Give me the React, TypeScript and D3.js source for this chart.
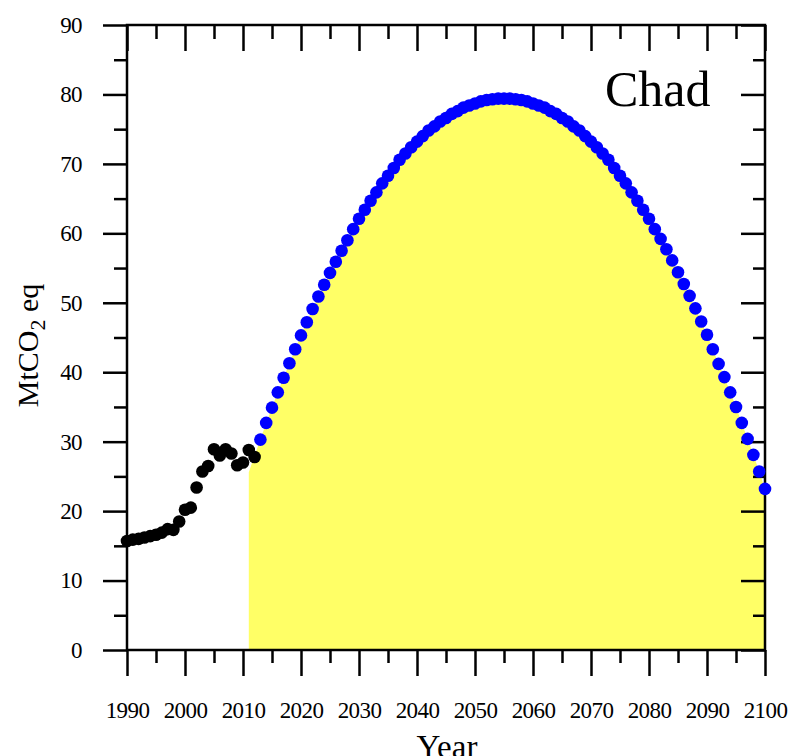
import * as d3 from 'd3';
import * as React from 'react';

const { useRef, useEffect } = React;

const width = 788;
const height = 756;
const margin = { top: 25, right: 23, bottom: 106, left: 127 };

const countryName = 'Chad';

// historical emissions, 1990-2012 (black)
const histStart = 1990;
const histValues = [
  15.7, 15.9, 16.0, 16.2, 16.4, 16.6, 16.9, 17.4, 17.3, 18.5, 20.2, 20.5,
  23.4, 25.7, 26.5, 28.9, 28.0, 28.9, 28.3, 26.6, 27.0, 28.8, 27.8,
];

// projected pathway, 2011-2100 (yellow area); dots drawn from 2013 (blue)
const projStart = 2011;
const dotsFrom = 2013;
const projValues = [
  25.6, 28.0, 30.3, 32.7, 34.9, 37.1, 39.2, 41.3, 43.3, 45.3, 47.2, 49.1,
  50.9, 52.6, 54.3, 55.9, 57.5, 59.0, 60.6, 62.1, 63.4, 64.7, 65.9, 67.2,
  68.3, 69.4, 70.6, 71.5, 72.4, 73.2, 74.0, 74.8, 75.4, 76.1, 76.6, 77.2,
  77.6, 78.1, 78.4, 78.7, 79.0, 79.2, 79.3, 79.4, 79.4, 79.4, 79.3, 79.2,
  79.0, 78.7, 78.4, 78.1, 77.6, 77.2, 76.6, 76.1, 75.4, 74.8, 74.0, 73.2,
  72.4, 71.5, 70.6, 69.4, 68.3, 67.2, 65.9, 64.7, 63.4, 62.1, 60.6, 59.2,
  57.7, 56.1, 54.4, 52.7, 51.0, 49.2, 47.3, 45.4, 43.3, 41.2, 39.3, 37.1,
  35.0, 32.7, 30.4, 28.1, 25.7, 23.2,
];

const xMajorTicks = [1990, 2000, 2010, 2020, 2030, 2040, 2050, 2060, 2070, 2080, 2090, 2100];
const xMinorTicks = [1995, 2005, 2015, 2025, 2035, 2045, 2055, 2065, 2075, 2085, 2095];
const yMajorTicks = [0, 10, 20, 30, 40, 50, 60, 70, 80, 90];
const yMinorTicks = [5, 15, 25, 35, 45, 55, 65, 75, 85];

const font = '"Liberation Serif", "Times New Roman", serif';

export default () => {
  const rootRef = useRef<SVGSVGElement>(null);

  useEffect(() => {
    const rootEl = rootRef.current;
    if (!rootEl) {
      return;
    }

    const hist = histValues.map((v, i) => ({ year: histStart + i, v }));
    const proj = projValues.map((v, i) => ({ year: projStart + i, v }));

    const x = d3
      .scaleLinear()
      .domain([1990, 2100])
      .range([margin.left, width - margin.right]);

    const y = d3
      .scaleLinear()
      .domain([0, 90])
      .range([height - margin.bottom, margin.top]);

    const svg = d3.select(rootEl);
    svg.selectAll('*').remove();

    // yellow area under the projection
    const area = d3
      .area<{ year: number; v: number }>()
      .x(d => x(d.year))
      .y0(y(0))
      .y1(d => y(d.v));

    svg
      .append('path')
      .datum(proj)
      .attr('d', area)
      .attr('fill', '#ffff66');

    const styleAxis = (g: d3.Selection<any, any, any, any>) =>
      g
        .call(g => g.select('.domain').remove())
        .call(g => g.selectAll('line').attr('stroke', '#000').attr('stroke-width', 2.5))
        .call(g =>
          g
            .selectAll('text')
            .attr('fill', '#000')
            .attr('font-family', font)
            .attr('font-size', 23)
            .attr('letter-spacing', -0.6),
        );

    const bottom = height - margin.bottom;
    const right = width - margin.right;

    // left
    svg
      .append('g')
      .attr('transform', `translate(${margin.left},0)`)
      .call(d3.axisLeft(y).tickValues(yMajorTicks).tickSize(24).tickSizeOuter(0).tickPadding(21).tickFormat(d3.format('d')))
      .call(styleAxis);
    svg
      .append('g')
      .attr('transform', `translate(${margin.left},0)`)
      .call(d3.axisLeft(y).tickValues(yMinorTicks).tickSize(13).tickSizeOuter(0).tickFormat(() => ''))
      .call(styleAxis);

    // right (inward)
    svg
      .append('g')
      .attr('transform', `translate(${right},0)`)
      .call(d3.axisRight(y).tickValues(yMajorTicks).tickSize(-24).tickSizeOuter(0).tickFormat(() => ''))
      .call(styleAxis);
    svg
      .append('g')
      .attr('transform', `translate(${right},0)`)
      .call(d3.axisRight(y).tickValues(yMinorTicks).tickSize(-12).tickSizeOuter(0).tickFormat(() => ''))
      .call(styleAxis);

    // bottom
    svg
      .append('g')
      .attr('transform', `translate(0,${bottom})`)
      .call(d3.axisBottom(x).tickValues(xMajorTicks).tickSize(26).tickSizeOuter(0).tickPadding(26).tickFormat(d3.format('d')))
      .call(styleAxis);
    svg
      .append('g')
      .attr('transform', `translate(0,${bottom})`)
      .call(d3.axisBottom(x).tickValues(xMinorTicks).tickSize(13).tickSizeOuter(0).tickFormat(() => ''))
      .call(styleAxis);

    // top (inward)
    svg
      .append('g')
      .attr('transform', `translate(0,${margin.top})`)
      .call(d3.axisTop(x).tickValues(xMajorTicks).tickSize(-26).tickSizeOuter(0).tickFormat(() => ''))
      .call(styleAxis);
    svg
      .append('g')
      .attr('transform', `translate(0,${margin.top})`)
      .call(d3.axisTop(x).tickValues(xMinorTicks).tickSize(-14).tickSizeOuter(0).tickFormat(() => ''))
      .call(styleAxis);

    // frame
    svg
      .append('rect')
      .attr('x', margin.left)
      .attr('y', margin.top)
      .attr('width', right - margin.left)
      .attr('height', bottom - margin.top)
      .attr('fill', 'none')
      .attr('stroke', '#000')
      .attr('stroke-width', 2.5);

    // dots
    svg
      .append('g')
      .selectAll('circle')
      .data(proj.filter(d => d.year >= dotsFrom))
      .join('circle')
      .attr('cx', d => x(d.year))
      .attr('cy', d => y(d.v))
      .attr('r', 6.3)
      .attr('fill', '#0000ff');

    svg
      .append('g')
      .selectAll('circle')
      .data(hist)
      .join('circle')
      .attr('cx', d => x(d.year))
      .attr('cy', d => y(d.v))
      .attr('r', 6.3)
      .attr('fill', '#000');

    // titles
    svg
      .append('text')
      .attr('x', 447)
      .attr('y', 758)
      .attr('text-anchor', 'middle')
      .attr('font-family', font)
      .attr('font-size', 33)
      .text('Year');

    const yTitle = svg
      .append('text')
      .attr('transform', `translate(38,${(margin.top + bottom) / 2 + 8}) rotate(-90)`)
      .attr('text-anchor', 'middle')
      .attr('font-family', font)
      .attr('font-size', 30);
    yTitle.append('tspan').text('MtCO');
    yTitle.append('tspan').attr('dy', 7).attr('font-size', 22).text('2');
    yTitle.append('tspan').attr('dy', -7).text(' eq');

    svg
      .append('text')
      .attr('x', 605)
      .attr('y', 106)
      .attr('font-family', font)
      .attr('font-size', 50)
      .text(countryName);
  }, []);

  return (
    <svg
      ref={rootRef}
      width={width}
      height={height}
      style={{ position: 'absolute', left: 0, top: 0, background: '#fff' }}
    />
  );
};
